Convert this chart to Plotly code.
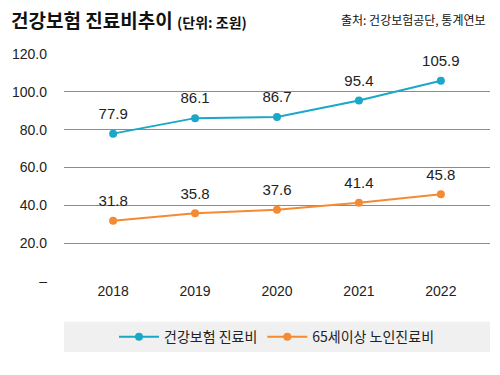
import plotly.graph_objects as go

years = ["2018", "2019", "2020", "2021", "2022"]
total = [77.9, 86.1, 86.7, 95.4, 105.9]
elderly = [31.8, 35.8, 37.6, 41.4, 45.8]
series_names = ["건강보험 진료비", "65세이상 노인진료비"]
tick_vals = [0, 20, 40, 60, 80, 100, 120]
tick_text = ["–", "20.0", "40.0", "60.0", "80.0", "100.0", "120.0"]

FONT = "Liberation Sans, Noto Sans CJK KR"
KFONT = "Noto Sans CJK KR"
BLUE = "#1ba7c8"
ORANGE = "#f48a32"

fig = go.Figure()
for name, vals, col in [(series_names[0], total, BLUE), (series_names[1], elderly, ORANGE)]:
    fig.add_trace(go.Scatter(
        x=years, y=vals, name=name, mode="lines+markers",
        line=dict(color=col, width=2), marker=dict(color=col, size=8),
        cliponaxis=False,
    ))
    # value labels (transparent larger markers push the text a bit higher)
    fig.add_trace(go.Scatter(
        x=years, y=vals, mode="markers+text", showlegend=False, hoverinfo="skip",
        marker=dict(size=16, opacity=0),
        text=[f"{v:.1f}" for v in vals], textposition="top center",
        textfont=dict(size=15, color="#222", family=FONT),
        cliponaxis=False,
    ))

fig.update_layout(
    width=500, height=375,
    margin=dict(l=64, r=10, t=54, b=94, autoexpand=False),
    paper_bgcolor="white", plot_bgcolor="white",
    font=dict(family=FONT, color="#222"),
    showlegend=True,
    legend=dict(orientation="h", x=0.5, xanchor="center", y=-0.247, yanchor="middle",
                bgcolor="rgba(0,0,0,0)", font=dict(size=14, color="#222", family=KFONT),
                itemwidth=40, traceorder="normal"),
    xaxis=dict(type="category", range=[-0.6, 4.6], showgrid=False, showline=False,
               zeroline=False, ticks="", tickfont=dict(size=14, color="#222"),
               automargin=False),
    yaxis=dict(range=[0, 120], tickvals=tick_vals, ticktext=tick_text,
               showgrid=True, gridcolor="#8c8c8c", gridwidth=1, zeroline=False,
               showline=False, ticks="", ticklabelstandoff=16, automargin=False,
               tickfont=dict(size=14, color="#222")),
    shapes=[dict(type="rect", xref="paper", yref="paper", x0=0, x1=1, y0=-0.313, y1=-0.18,
                 fillcolor="#f0f0f0", line=dict(width=0), layer="below")],
    annotations=[
        dict(xref="paper", yref="paper", x=-0.13, y=1.15, xanchor="left", yanchor="middle",
             showarrow=False,
             text="<b><span style='font-size:19px'>건강보험 진료비추이</span> <span style='font-size:14px'>(단위: 조원)</span></b>",
             font=dict(size=19, color="#111", family=KFONT)),
        dict(xref="paper", yref="paper", x=0.995, y=1.15, xanchor="right", yanchor="middle",
             showarrow=False, text="출처: 건강보험공단, 통계연보",
             font=dict(size=12, color="#111", family=KFONT)),
    ],
)

fig.write_html("out.html", config={"displayModeBar": False},
               post_script="document.body.style.margin='0';")
